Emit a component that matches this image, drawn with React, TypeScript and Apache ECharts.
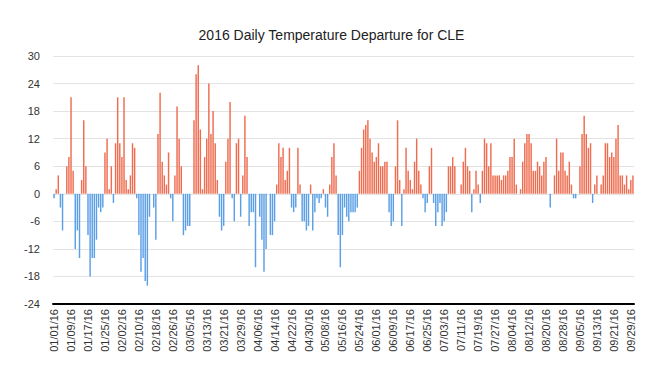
import React, { useEffect, useRef } from "react";
import * as echarts from "echarts";

const chartTitle = "2016 Daily Temperature Departure for CLE";

// Daily departure (°F) from 01/01/16 through 09/30/16, one value per day
const departures: number[] = [
  -1, 1, 4, -3, -8, 0, 6, 8, 21, 5,
  -12, -8, -14, 3, 16, 6, -9, -18, -14, -14,
  -10, -3, -4, -3, 9, 12, 1, 6, -2, 11,
  21, 11, 8, 21, 3, 1, 4, 11, 10, -1,
  -9, -17, -14, -19, -20, -5, 0, -3, -10, 13,
  22, 7, 4, 2, 9, -1, -6, 4, 19, 12,
  6, -9, -8, -7, -7, 0, 16, 26, 28, 14,
  1, 8, 12, 24, 13, 18, 11, 3, -5, -8,
  -7, 7, 12, 20, -1, -6, 11, 12, -5, 4,
  17, 8, -7, -4, -4, -16, 0, -5, -10, -17,
  -12, 0, -9, -9, -6, 2, 11, 8, 10, 3,
  5, 10, -3, -4, -3, 10, 2, -6, -6, -8,
  -7, 2, -8, -4, -1, -2, -1, 1, -3, -5,
  2, 8, 11, 4, -9, -16, -9, -3, -5, -6,
  -4, -4, -4, -3, 5, 10, 14, 15, 16, 12,
  9, 7, 8, 11, 6, 6, 7, 7, -4, -7,
  -6, 6, 16, 3, -7, 1, 10, 5, 3, 1,
  7, 12, 5, 2, -1, -4, -2, 6, 10, -2,
  -7, -4, -2, -7, -6, -4, 6, 6, 8, 6,
  0, 0, 2, 7, 10, 6, 5, -4, 1, 5,
  2, -2, 5, 12, 11, 6, 11, 4, 4, 4,
  4, 3, 4, 4, 5, 8, 8, 12, 2, 0,
  1, 7, 11, 13, 13, 11, 5, 5, 7, 6,
  4, 7, 8, 0, -3, 0, 4, 12, 5, 9,
  9, 5, 4, 7, 2, -1, -1, 0, 6, 13,
  17, 13, 10, 11, -2, 2, 4, 0, 2, 4,
  11, 11, 8, 9, 8, 12, 15, 4, 4, 2,
  4, 1, 3, 4,
];

const yMin = -24;
const yMax = 30;
const yStep = 6;
const labelEvery = 8;

function buildDates(count: number): string[] {
  const out: string[] = [];
  for (let i = 0; i < count; i++) {
    const d = new Date(Date.UTC(2016, 0, 1 + i));
    const mm = String(d.getUTCMonth() + 1).padStart(2, "0");
    const dd = String(d.getUTCDate()).padStart(2, "0");
    out.push(`${mm}/${dd}/16`);
  }
  return out;
}

const dates = buildDates(departures.length);

const posColor = "#EE6C4F";
const negColor = "#5B9FE6";

export default function App() {
  const ref = useRef<HTMLDivElement>(null);
  useEffect(() => {
    if (!ref.current) return;
    const chart = echarts.init(ref.current, null, { renderer: "svg" });
    const font = "'Liberation Sans', Arial, Helvetica, sans-serif";
    chart.setOption({
      animation: false,
      backgroundColor: "#ffffff",
      title: {
        text: chartTitle,
        left: "center",
        top: 23,
        textStyle: { fontFamily: font, fontSize: 14, fontWeight: "normal", color: "#222" },
      },
      grid: { left: 53, right: 29, top: 56, bottom: 77, containLabel: false },
      xAxis: {
        type: "category",
        data: dates,
        axisLine: { show: true, onZero: false, lineStyle: { color: "#000", width: 2 } },
        axisTick: { show: false },
        axisLabel: {
          interval: labelEvery - 1,
          rotate: 90,
          margin: 5,
          fontFamily: font,
          fontSize: 11,
          color: "#333",
        },
        splitLine: { show: false },
      },
      yAxis: {
        type: "value",
        min: yMin,
        max: yMax,
        interval: yStep,
        axisLine: { show: false },
        axisTick: { show: false },
        axisLabel: { margin: 13, fontFamily: font, fontSize: 11, color: "#333" },
        splitLine: { show: true, lineStyle: { color: "#e3e3e3", width: 1 } },
      },
      series: [
        {
          type: "bar",
          data: departures.map((v) => ({
            value: v,
            itemStyle: { color: v >= 0 ? posColor : negColor },
          })),
          barWidth: "68%",
        },
      ],
    });
    return () => chart.dispose();
  }, []);
  return (
    <div
      ref={ref}
      style={{ position: "absolute", left: 0, top: 0, width: 663, height: 381 }}
    />
  );
}
